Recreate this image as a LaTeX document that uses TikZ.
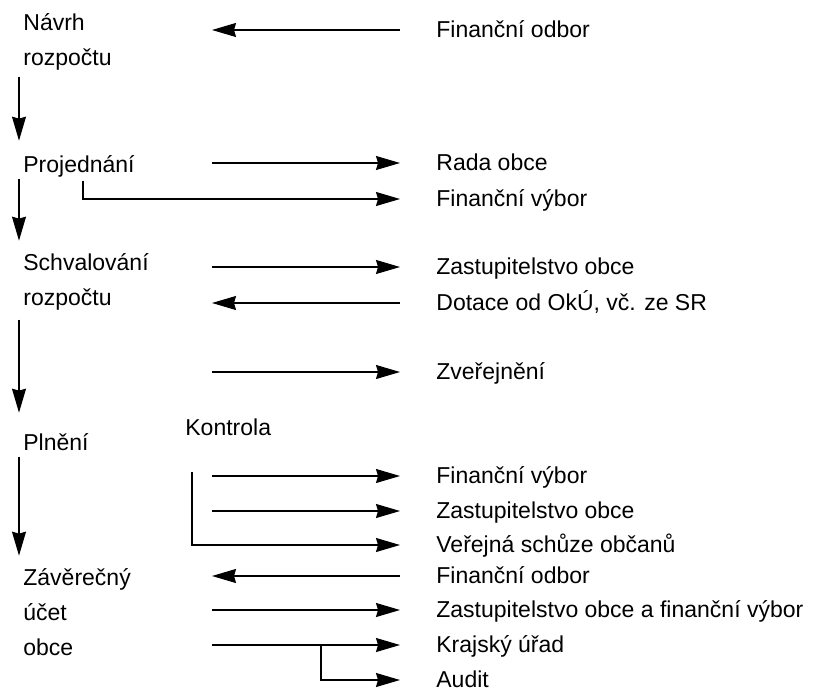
\documentclass[tikz,border=0pt]{standalone}
\usepackage{fontspec}
\setmainfont{Liberation Sans}
\usetikzlibrary{arrows.meta}
\begin{document}
\begin{tikzpicture}[x=0.5pt,y=-0.5pt,
  font=\fontsize{11.5}{17.5}\selectfont,
  tok/.style={-{Stealth[length=12pt,width=7pt,inset=1pt]},line width=0.65pt},
  faze/.style={anchor=base west,inner sep=0pt,align=left,text depth=0.21em},
  cil/.style={anchor=west,inner xsep=18pt,inner ysep=0pt,text height=0.72em,text depth=0pt}]
\useasboundingbox (0,0) rectangle (819,690);
\coordinate (L) at (212,0);
\coordinate (V) at (19,0);
\coordinate (B) at (321,0);
\coordinate (kb) at (192,472);
\node[faze] (navrh) at (23,66) {Návrh\\rozpočtu};
\node[faze] (proj) at (23,172) {Projednání};
\node[faze] (schv) at (23,305) {Schvalování\\rozpočtu};
\node[faze] (plneni) at (23,450) {Plnění};
\node[faze] (zav) at (23,655) {Závěrečný\\účet\\obce};
\node[faze] (kon) at (185,435) {Kontrola};
\node[cil] (fo1) at (400,30) {Finanční odbor};
\node[cil] (ro) at (400,163) {Rada obce};
\node[cil] (fv1) at (400,199) {Finanční výbor};
\node[cil] (zo1) at (400,267) {Zastupitelstvo obce};
\node[cil] (dot) at (400,303) {Dotace od OkÚ, vč. ze SR};
\node[cil] (zve) at (400,372) {Zveřejnění};
\node[cil] (fv2) at (400,476) {Finanční výbor};
\node[cil] (zo2) at (400,511) {Zastupitelstvo obce};
\node[cil] (vs) at (400,545) {Veřejná schůze občanů};
\node[cil] (fo2) at (400,576) {Finanční odbor};
\node[cil] (zofv) at (400,610) {Zastupitelstvo obce a finanční výbor};
\node[cil] (ku) at (400,645) {Krajský úřad};
\node[cil] (au) at (400,680) {Audit};
\draw[tok,shorten <=3pt,shorten >=7pt] (navrh.south -| V) -- (proj.north -| V);
\draw[tok,shorten <=1pt,shorten >=6pt] (proj.south -| V) -- (schv.north -| V);
\draw[tok,shorten <=5pt,shorten >=10pt] (schv.south -| V) -- (plneni.north -| V);
\draw[tok,shorten <=1pt,shorten >=6pt] (plneni.south -| V) -- (zav.north -| V);
\draw[tok] (fo1.west) -- (fo1.west -| L);
\draw[tok] (ro.west -| L) -- (ro.west);
\draw[tok] ([xshift=30pt,yshift=-2pt]proj.south west) |- (fv1.west);
\draw[tok] (zo1.west -| L) -- (zo1.west);
\draw[tok] (dot.west) -- (dot.west -| L);
\draw[tok] (zve.west -| L) -- (zve.west);
\draw[tok] (fv2.west -| L) -- (fv2.west);
\draw[tok] (zo2.west -| L) -- (zo2.west);
\draw[tok] (kb) |- (vs.west);
\draw[tok] (fo2.west) -- (fo2.west -| L);
\draw[tok] (zofv.west -| L) -- (zofv.west);
\draw[tok] (ku.west -| L) -- (ku.west);
\draw[tok] (ku.west -| B) |- (au.west);
\end{tikzpicture}
\end{document}
